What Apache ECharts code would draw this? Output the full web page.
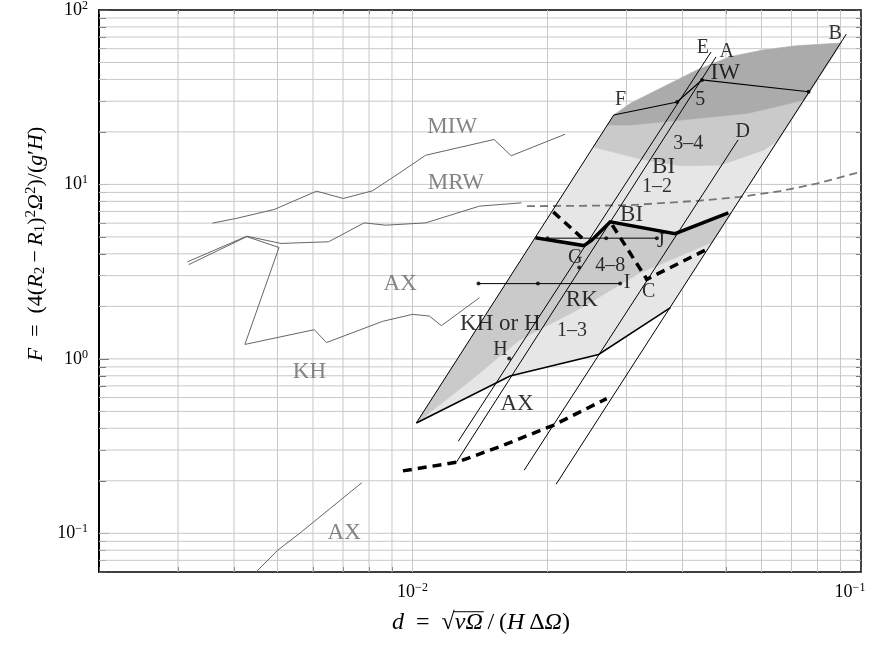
<!DOCTYPE html>
<html><head><meta charset="utf-8">
<script src="https://cdn.jsdelivr.net/npm/echarts@6.0.0/dist/echarts.min.js"></script>
<style>html,body{margin:0;padding:0;background:#fff}#c{width:881px;height:650px}</style>
</head><body><div id="c"></div>
<script>
// ---------- axis ranges & ticks ----------
const xMin = 0.002, xMax = 0.1, yMin = 0.06, yMax = 100;
const xTicks = [0.002,0.003,0.004,0.005,0.006,0.007,0.008,0.009,0.01,0.02,0.03,0.04,0.05,0.06,0.07,0.08,0.09,0.1];
const yTicks = [0.06,0.07,0.08,0.09,0.1,0.2,0.3,0.4,0.5,0.6,0.7,0.8,0.9,1,2,3,4,5,6,7,8,9,10,20,30,40,50,60,70,80,90,100];
const xMajor = [0.01, 0.1];
const yMajor = [0.1, 1, 10, 100];

// ---------- gray curves ----------
const lineMIW = [[0.00358,6.0],[0.00404,6.38],[0.00492,7.19],[0.00611,9.15],[0.00701,8.31],[0.00814,9.19],[0.00934,11.6],[0.0107,14.7],[0.0152,18.1],[0.0166,14.6],[0.0219,19.4]];
const lineMRW = [[0.00315,3.6],[0.00427,5.05],[0.00509,4.59],[0.0065,4.69],[0.0078,6.02],[0.00872,5.84],[0.0107,6.02],[0.0141,7.51],[0.0175,7.84]];
const lineAXKH = [[0.00317,3.47],[0.00427,5.02],[0.00504,4.35],[0.00423,1.21],[0.00604,1.47],[0.00643,1.24],[0.00857,1.64],[0.01,1.8],[0.0109,1.76],[0.0116,1.55],[0.0141,2.24]];
const lineAXlow = [[0.00448,0.06],[0.005,0.0798],[0.00559,0.0995],[0.00771,0.195]];
const grayDash = [[0.018,7.51],[0.0237,7.54],[0.0306,7.61],[0.0431,8.05],[0.0538,8.49],[0.066,9.15],[0.0797,10.1],[0.0996,11.8]];

// ---------- black lines ----------
const lineLeft = [[0.0102,0.429],[0.0281,25.0]];
const lineE = [[0.01265,0.337],[0.0463,57.4]];
const lineA = [[0.01252,0.255],[0.0475,53.8]];
const lineD = [[0.01774,0.230],[0.0532,18.0]];
const lineB = [[0.0209,0.191],[0.0927,72.6]];
const lineLower = [[0.0102,0.429],[0.0165,0.798],[0.026,1.06],[0.0376,1.97]];
const lineIW = [[0.0281,25.0],[0.0389,29.7],[0.0442,39.7],[0.0764,34.0]];
const thickSolid = [[0.0188,4.95],[0.0241,4.46],[0.0251,4.79],[0.0276,6.1],[0.0385,5.22],[0.0506,6.87]];
const thickDashA = [[0.0206,6.96],[0.0245,4.64]];
const thickDashB = [[0.0279,5.84],[0.0333,2.86],[0.0457,4.29]];
const thickDashLow = [[0.00952,0.228],[0.0126,0.256],[0.0157,0.315],[0.0206,0.416],[0.0271,0.592]];
const barI = [[0.01403,2.70],[0.01904,2.70],[0.02904,2.70]];
const barJ = [[0.0200,4.92],[0.02703,4.92],[0.03507,4.92]];
const dotPoints = [[0.01403,2.70],[0.01904,2.70],[0.02904,2.70],[0.0200,4.92],[0.02703,4.92],[0.03507,4.92],[0.0333,2.86],[0.02353,3.34],[0.01643,1.004],[0.0764,34.0],[0.0442,39.7],[0.0389,29.7]];

// ---------- shaded regions ----------
const regionLight = [[0.0102,0.429],[0.0281,25.0],[0.0306,29.15],[0.0363,36.3],[0.0431,45.3],[0.0511,54.0],[0.0606,59.0],[0.0720,62.4],[0.0904,64.7],[0.0376,1.97],[0.026,1.06],[0.0165,0.798]];
const regionDark = [[0.0281,25.0],[0.0306,29.15],[0.0363,36.3],[0.0431,45.3],[0.0511,54.0],[0.0606,59.0],[0.0720,62.4],[0.0904,64.7],[0.0748,30.5],[0.0557,25.5],[0.0431,23.9],[0.0306,21.9],[0.0272,21.9]];
const regionBand = [[0.0272,21.9],[0.0306,21.9],[0.0431,23.9],[0.0557,25.5],[0.0748,30.5],[0.0655,18.0],[0.0605,15.7],[0.0485,12.9],[0.0395,12.8],[0.0322,14.0],[0.0253,16.4]];
const regionMid = [[0.0102,0.429],[0.0188,4.95],[0.0241,4.46],[0.0251,4.79],[0.0276,6.1],[0.0385,5.22],[0.0506,6.87],[0.0515,6.87],[0.0467,4.67],[0.032,3.1],[0.0237,1.95],[0.0173,1.28],[0.0135,0.754]];

// ---------- labels ----------
const labelsLarge = [['IW',0.0498,43.4],['BI',0.0363,12.6],['BI',0.0308,6.67],['RK',0.02385,2.17],['KH or H',0.0157,1.594],['AX',0.0171,0.554]];
const labelsSmall = [['E',0.0444,60.5],['A',0.0502,57.7],['B',0.0876,73.5],['5',0.0438,30.5],['D',0.0545,20.0],['3–4',0.0412,17.2],['1–2',0.0351,9.69],['F',0.0291,30.5],['G',0.02306,3.78],['4–8',0.0276,3.44],['J',0.0358,4.67],['I',0.0301,2.72],['C',0.0336,2.42],['1–3',0.02267,1.446],['H',0.0157,1.131]];
const labelsGray = [['MIW',0.01226,21.4],['MRW',0.0125,10.2],['AX',0.00939,2.68],['KH',0.00589,0.841],['AX',0.00704,0.1003]];

// ---------- styling / building ----------
const FONT = '"Liberation Serif", "Times New Roman", serif';
const GRID = '#c8c8c8';
const chart = echarts.init(document.getElementById('c'), null, {renderer:'canvas', width:881, height:650});

function vGrid(vals){
  return {type:'custom', silent:true, z:1, animation:false, data: vals.map(v=>[v,1]),
    renderItem:(p,api)=>{const v=api.value(0);const a=api.coord([v,yMin]);const b=api.coord([v,yMax]);
      return {type:'line', shape:{x1:a[0],y1:a[1],x2:b[0],y2:b[1]}, style:{stroke:GRID,lineWidth:1}};}};
}
function hGrid(vals){
  return {type:'custom', silent:true, z:1, animation:false, data: vals.map(v=>[0.01,v]),
    renderItem:(p,api)=>{const v=api.value(1);const a=api.coord([xMin,v]);const b=api.coord([xMax,v]);
      return {type:'line', shape:{x1:a[0],y1:a[1],x2:b[0],y2:b[1]}, style:{stroke:GRID,lineWidth:1}};}};
}
function poly(pts, color){
  return {type:'custom', silent:true, z:2, animation:false, data:[[pts[0][0],pts[0][1]]],
    renderItem:(p,api)=>({type:'polygon', shape:{points: pts.map(q=>api.coord(q))}, style:{fill:color, stroke:color, lineWidth:0.6}})};
}
function line(data, color, width, type){
  return {type:'line', data, symbol:'none', showSymbol:false, silent:true, z:3, animation:false, clip:true,
    lineStyle:{color, width, type: type||'solid', cap:'butt', join:'miter'}, emphasis:{disabled:true}};
}
function labels(arr, size, color){
  return {type:'scatter', silent:true, z:5, animation:false, symbolSize:1, itemStyle:{color:'rgba(0,0,0,0)'},
    data: arr.map(l=>({name:l[0], value:[l[1],l[2]]})),
    label:{show:true, position:'inside', formatter:'{b}', color, fontFamily:FONT, fontSize:size},
    emphasis:{disabled:true}};
}
function xFmt(v){ const e = Math.round(Math.log10(v)); const txt=(e<0?'−'+(-e):String(e)); return '10{' + (e===-1?'sr':'s') + '|' + txt + '}'; }
function yFmt(v){ const e = Math.round(Math.log10(v)); const txt=(e<0?'−'+(-e):String(e)); return '10{s|' + txt + '}'; }
const supRich = {s:{fontFamily:FONT, fontSize:12, color:'#000', padding:[0,0,9,0]},
                 sr:{fontFamily:FONT, fontSize:12, color:'#000', padding:[0,22,9,0]}};

const interiorX = xTicks.filter(v=>v>xMin && v<xMax);
const interiorY = yTicks.filter(v=>v>yMin && v<yMax);

function xAx(pos, len, showLabel){
  return {type:'log', logBase:10, min:xMin, max:xMax, position:pos,
    axisLine:{show:true, onZero:false, lineStyle:{color:'#000', width:1.5}},
    axisTick:{show:true, inside:true, length:len, customValues:xTicks, lineStyle:{color:'#555', width:1}},
    axisLabel: showLabel ? {show:true, customValues:xMajor, formatter:xFmt, margin:10, fontFamily:FONT, fontSize:18, color:'#000', rich:supRich} : {show:false},
    splitLine:{show:false}, minorTick:{show:false}, minorSplitLine:{show:false}};
}
function yAx(pos, len, showLabel, vals, showLine){
  return {type:'log', logBase:10, min:yMin, max:yMax, position:pos,
    axisLine:{show:showLine, onZero:false, lineStyle:{color:'#000', width: pos==='left'?2:1.5}},
    axisTick:{show:true, inside:true, length:len, customValues:vals, lineStyle:{color:'#555', width:1}},
    axisLabel: showLabel ? {show:true, customValues:yMajor, formatter:yFmt, margin:11, fontFamily:FONT, fontSize:18, color:'#000', rich:supRich} : {show:false},
    splitLine:{show:false}, minorTick:{show:false}, minorSplitLine:{show:false}};
}

// ---------- axis titles (graphic) ----------
const fsT = 22, fsX = 24;
const ctx = document.createElement('canvas').getContext('2d');
function tw(t, it){ ctx.font = (it?'italic ':'') + fsX + 'px "Liberation Serif"'; return ctx.measureText(t).width; }
const xTitlePieces = [['d',1],['\u2002=\u2002',0],['√',0],['νΩ',1],['\u2009/\u2009(',0],['H',1],['\u2009Δ',0],['Ω',1],[')',0]];
const graphics = [];
(function(){
  const total = xTitlePieces.reduce((s,p)=>s+tw(p[0],p[1]),0);
  let cx = 481 - total/2; const cy = 623; let b1=0,b2=0;
  xTitlePieces.forEach((p,i)=>{
    const ww = tw(p[0],p[1]);
    graphics.push({type:'text', x:cx, y:cy, silent:true, style:{text:p[0], fontFamily:'Liberation Serif', fontStyle:p[1]?'italic':'normal', fontSize:fsX, fill:'#000', align:'left', verticalAlign:'middle'}});
    if(i===3){b1=cx;b2=cx+ww;}
    cx += ww;
  });
  graphics.push({type:'line', silent:true, shape:{x1:b1-1, y1:cy-0.47*fsX, x2:b2+1, y2:cy-0.47*fsX}, style:{stroke:'#000', lineWidth:1}});
})();
graphics.push({type:'text', x:36, y:244, rotation:Math.PI/2, silent:true,
  style:{text:'{i|F}\u2002=\u2002(4({i|R}{d|2}\u2009−\u2009{i|R}{d|1}){u|2}{i|Ω}{u|2})/({i|g}′{i|H})',
    fontFamily:'Liberation Serif', fontSize:fsT, fill:'#000', align:'center', verticalAlign:'middle',
    rich:{i:{fontFamily:'Liberation Serif', fontStyle:'italic', fontSize:fsT, fill:'#000'},
          d:{fontFamily:'Liberation Serif', fontSize:15, fill:'#000', padding:[9,0,0,0]},
          u:{fontFamily:'Liberation Serif', fontSize:15, fill:'#000', padding:[0,0,10,0]}}}});

const option = {
  animation:false,
  backgroundColor:'#fff',
  grid:{left:99, right:20, top:10, bottom:78, containLabel:false, outerBoundsMode:'none'},
  xAxis:[xAx('bottom',5,true), xAx('top',4,false)],
  yAxis:[yAx('left',7,true,yTicks,true), yAx('right',5,false,yTicks,true), yAx('left',10,false,yMajor,false)],
  graphic: graphics,
  series:[
    vGrid(interiorX), hGrid(interiorY),
    poly(regionLight,'#e6e6e6'), poly(regionMid,'#cacaca'), poly(regionBand,'#cacaca'), poly(regionDark,'#ababab'),
    line(lineMIW,'#666',1), line(lineMRW,'#666',1), line(lineAXKH,'#666',1), line(lineAXlow,'#666',1),
    line(grayDash,'#777',1.8,[8,5]),
    line(lineLeft,'#000',1), line(lineE,'#000',1), line(lineA,'#000',1), line(lineD,'#000',1), line(lineB,'#000',1),
    line(lineLower,'#000',1.5), line(lineIW,'#000',1.2),
    line(barI,'#000',1), line(barJ,'#000',1),
    line(thickSolid,'#000',3.5), line(thickDashA,'#000',3.5,[9,6]), line(thickDashB,'#000',3.5,[9,6]), line(thickDashLow,'#000',3.5,[9,6]),
    {type:'scatter', silent:true, z:4, animation:false, symbolSize:4, itemStyle:{color:'#000'}, data:dotPoints, emphasis:{disabled:true}},
    labels(labelsLarge,23,'#000'), labels(labelsSmall,20,'#000'), labels(labelsGray,23,'#666')
  ]
};
chart.setOption(option);
</script></body></html>
